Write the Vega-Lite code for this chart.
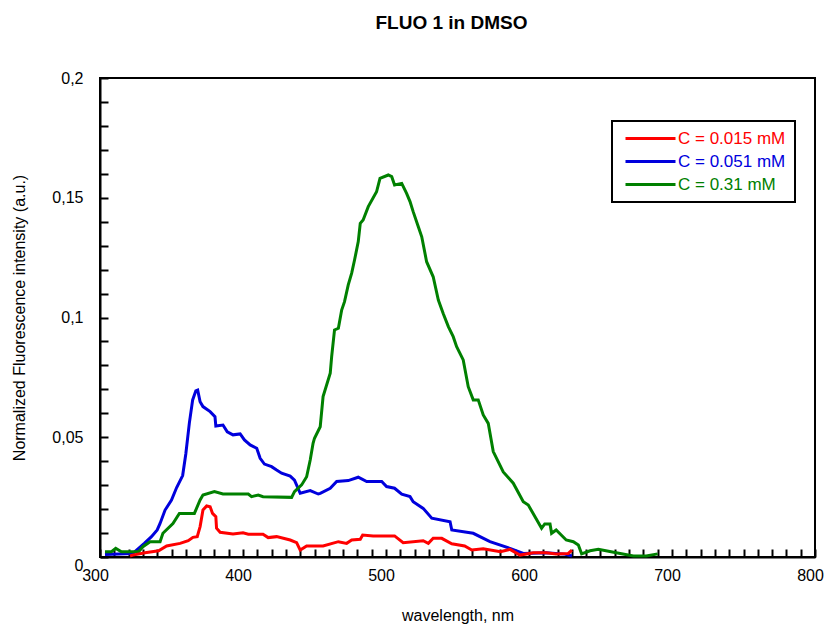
{
  "$schema": "https://vega.github.io/schema/vega-lite/v6.json",
  "width": 715,
  "height": 479,
  "autosize": {"type": "none"},
  "padding": {"left": 100, "top": 78, "right": 15, "bottom": 68},
  "background": "white",
  "title": {"text": "FLUO 1 in DMSO", "font": "Liberation Sans", "fontSize": 19, "fontWeight": "bold", "anchor": "middle", "offset": 37, "dx": -6, "color": "black"},
  "config": {
    "view": {"stroke": "black", "strokeWidth": 2},
    "axis": {"domainColor": "black", "domainWidth": 2, "tickColor": "black", "tickWidth": 2, "labelFont": "Liberation Sans", "labelFontSize": 16, "labelColor": "black", "titleFont": "Liberation Sans", "titleFontSize": 16, "titleFontWeight": "normal", "titleColor": "black", "grid": false}
  },
  "data": {"values": [
    {"s":"C = 0.051 mM","wl":303.5,"v":0.001},{"s":"C = 0.051 mM","wl":323,"v":0.0015},{"s":"C = 0.051 mM","wl":327,"v":0.0036},{"s":"C = 0.051 mM","wl":331,"v":0.0057},{"s":"C = 0.051 mM","wl":336,"v":0.0085},{"s":"C = 0.051 mM","wl":340,"v":0.0113},{"s":"C = 0.051 mM","wl":342,"v":0.014},{"s":"C = 0.051 mM","wl":345.5,"v":0.0196},{"s":"C = 0.051 mM","wl":350,"v":0.0238},{"s":"C = 0.051 mM","wl":353.6,"v":0.029},{"s":"C = 0.051 mM","wl":357.8,"v":0.034},{"s":"C = 0.051 mM","wl":360,"v":0.043},{"s":"C = 0.051 mM","wl":362.5,"v":0.056},{"s":"C = 0.051 mM","wl":364.8,"v":0.0656},{"s":"C = 0.051 mM","wl":367,"v":0.0694},{"s":"C = 0.051 mM","wl":368.3,"v":0.0697},{"s":"C = 0.051 mM","wl":370,"v":0.0648},{"s":"C = 0.051 mM","wl":372,"v":0.0628},{"s":"C = 0.051 mM","wl":377,"v":0.0607},{"s":"C = 0.051 mM","wl":380.4,"v":0.0586},{"s":"C = 0.051 mM","wl":381,"v":0.0547},{"s":"C = 0.051 mM","wl":386,"v":0.0551},{"s":"C = 0.051 mM","wl":389,"v":0.0523},{"s":"C = 0.051 mM","wl":393,"v":0.051},{"s":"C = 0.051 mM","wl":398,"v":0.0514},{"s":"C = 0.051 mM","wl":401,"v":0.0489},{"s":"C = 0.051 mM","wl":405,"v":0.0468},{"s":"C = 0.051 mM","wl":409.6,"v":0.0454},{"s":"C = 0.051 mM","wl":412,"v":0.0412},{"s":"C = 0.051 mM","wl":415,"v":0.0388},{"s":"C = 0.051 mM","wl":420,"v":0.0377},{"s":"C = 0.051 mM","wl":423.5,"v":0.0363},{"s":"C = 0.051 mM","wl":427,"v":0.035},{"s":"C = 0.051 mM","wl":433,"v":0.0338},{"s":"C = 0.051 mM","wl":436,"v":0.0321},{"s":"C = 0.051 mM","wl":440,"v":0.0266},{"s":"C = 0.051 mM","wl":447,"v":0.0277},{"s":"C = 0.051 mM","wl":452.6,"v":0.0263},{"s":"C = 0.051 mM","wl":454,"v":0.0266},{"s":"C = 0.051 mM","wl":461,"v":0.0287},{"s":"C = 0.051 mM","wl":465.5,"v":0.0315},{"s":"C = 0.051 mM","wl":473.6,"v":0.0319},{"s":"C = 0.051 mM","wl":480.6,"v":0.0333},{"s":"C = 0.051 mM","wl":486.5,"v":0.0315},{"s":"C = 0.051 mM","wl":497,"v":0.0315},{"s":"C = 0.051 mM","wl":500.4,"v":0.0294},{"s":"C = 0.051 mM","wl":506,"v":0.0287},{"s":"C = 0.051 mM","wl":511,"v":0.0262},{"s":"C = 0.051 mM","wl":516.8,"v":0.0252},{"s":"C = 0.051 mM","wl":519,"v":0.0231},{"s":"C = 0.051 mM","wl":526,"v":0.0203},{"s":"C = 0.051 mM","wl":532,"v":0.0162},{"s":"C = 0.051 mM","wl":544.8,"v":0.0147},{"s":"C = 0.051 mM","wl":546,"v":0.0113},{"s":"C = 0.051 mM","wl":561,"v":0.0099},{"s":"C = 0.051 mM","wl":572.7,"v":0.0064},{"s":"C = 0.051 mM","wl":586.7,"v":0.0036},{"s":"C = 0.051 mM","wl":596,"v":0.0015},{"s":"C = 0.051 mM","wl":612,"v":0.0018},{"s":"C = 0.051 mM","wl":625,"v":0.0012},{"s":"C = 0.051 mM","wl":630,"v":0.0004},
    {"s":"C = 0.31 mM","wl":303.5,"v":0.0022},{"s":"C = 0.31 mM","wl":308,"v":0.0022},{"s":"C = 0.31 mM","wl":311,"v":0.0036},{"s":"C = 0.31 mM","wl":315,"v":0.0022},{"s":"C = 0.31 mM","wl":327,"v":0.0022},{"s":"C = 0.31 mM","wl":330,"v":0.0043},{"s":"C = 0.31 mM","wl":335,"v":0.0064},{"s":"C = 0.31 mM","wl":342,"v":0.0064},{"s":"C = 0.31 mM","wl":344,"v":0.0099},{"s":"C = 0.31 mM","wl":351,"v":0.014},{"s":"C = 0.31 mM","wl":355.5,"v":0.0182},{"s":"C = 0.31 mM","wl":366,"v":0.0182},{"s":"C = 0.31 mM","wl":370,"v":0.0238},{"s":"C = 0.31 mM","wl":372,"v":0.0259},{"s":"C = 0.31 mM","wl":380,"v":0.0273},{"s":"C = 0.31 mM","wl":386,"v":0.0263},{"s":"C = 0.31 mM","wl":403.7,"v":0.0263},{"s":"C = 0.31 mM","wl":406,"v":0.0252},{"s":"C = 0.31 mM","wl":410.7,"v":0.0259},{"s":"C = 0.31 mM","wl":414,"v":0.0252},{"s":"C = 0.31 mM","wl":434,"v":0.0249},{"s":"C = 0.31 mM","wl":436,"v":0.0273},{"s":"C = 0.31 mM","wl":441,"v":0.0301},{"s":"C = 0.31 mM","wl":444.5,"v":0.0335},{"s":"C = 0.31 mM","wl":447,"v":0.0405},{"s":"C = 0.31 mM","wl":449,"v":0.0475},{"s":"C = 0.31 mM","wl":450,"v":0.0496},{"s":"C = 0.31 mM","wl":454,"v":0.0544},{"s":"C = 0.31 mM","wl":456,"v":0.067},{"s":"C = 0.31 mM","wl":461,"v":0.0767},{"s":"C = 0.31 mM","wl":462,"v":0.0837},{"s":"C = 0.31 mM","wl":464,"v":0.0948},{"s":"C = 0.31 mM","wl":466.7,"v":0.0955},{"s":"C = 0.31 mM","wl":469,"v":0.1031},{"s":"C = 0.31 mM","wl":471,"v":0.1066},{"s":"C = 0.31 mM","wl":473.6,"v":0.1136},{"s":"C = 0.31 mM","wl":476,"v":0.1185},{"s":"C = 0.31 mM","wl":478,"v":0.124},{"s":"C = 0.31 mM","wl":480.6,"v":0.1317},{"s":"C = 0.31 mM","wl":482,"v":0.1393},{"s":"C = 0.31 mM","wl":484,"v":0.1407},{"s":"C = 0.31 mM","wl":487.6,"v":0.1463},{"s":"C = 0.31 mM","wl":493.4,"v":0.1525},{"s":"C = 0.31 mM","wl":495.8,"v":0.1581},{"s":"C = 0.31 mM","wl":501.6,"v":0.1595},{"s":"C = 0.31 mM","wl":504,"v":0.1588},{"s":"C = 0.31 mM","wl":506,"v":0.1553},{"s":"C = 0.31 mM","wl":511,"v":0.156},{"s":"C = 0.31 mM","wl":514.4,"v":0.1518},{"s":"C = 0.31 mM","wl":516.8,"v":0.1484},{"s":"C = 0.31 mM","wl":519,"v":0.1442},{"s":"C = 0.31 mM","wl":522.6,"v":0.1379},{"s":"C = 0.31 mM","wl":525,"v":0.1337},{"s":"C = 0.31 mM","wl":528.4,"v":0.1233},{"s":"C = 0.31 mM","wl":533,"v":0.117},{"s":"C = 0.31 mM","wl":536.6,"v":0.1073},{"s":"C = 0.31 mM","wl":540,"v":0.1017},{"s":"C = 0.31 mM","wl":543.6,"v":0.0962},{"s":"C = 0.31 mM","wl":547,"v":0.092},{"s":"C = 0.31 mM","wl":549.4,"v":0.0878},{"s":"C = 0.31 mM","wl":554,"v":0.0823},{"s":"C = 0.31 mM","wl":557.5,"v":0.0711},{"s":"C = 0.31 mM","wl":561,"v":0.0656},{"s":"C = 0.31 mM","wl":564.5,"v":0.0656},{"s":"C = 0.31 mM","wl":568,"v":0.0593},{"s":"C = 0.31 mM","wl":571.5,"v":0.0558},{"s":"C = 0.31 mM","wl":575,"v":0.044},{"s":"C = 0.31 mM","wl":582,"v":0.0355},{"s":"C = 0.31 mM","wl":589,"v":0.0308},{"s":"C = 0.31 mM","wl":596,"v":0.0231},{"s":"C = 0.31 mM","wl":599.5,"v":0.0217},{"s":"C = 0.31 mM","wl":608.8,"v":0.012},{"s":"C = 0.31 mM","wl":611,"v":0.0138},{"s":"C = 0.31 mM","wl":614.7,"v":0.0138},{"s":"C = 0.31 mM","wl":615.8,"v":0.0099},{"s":"C = 0.31 mM","wl":619,"v":0.0113},{"s":"C = 0.31 mM","wl":626,"v":0.0071},{"s":"C = 0.31 mM","wl":631,"v":0.0064},{"s":"C = 0.31 mM","wl":634.5,"v":0.005},{"s":"C = 0.31 mM","wl":636.8,"v":0.0013},{"s":"C = 0.31 mM","wl":642.7,"v":0.0026},{"s":"C = 0.31 mM","wl":648.5,"v":0.0032},{"s":"C = 0.31 mM","wl":661,"v":0.0018},{"s":"C = 0.31 mM","wl":673,"v":0.0004},{"s":"C = 0.31 mM","wl":682,"v":0.0004},{"s":"C = 0.31 mM","wl":690,"v":0.0013},
    {"s":"C = 0.015 mM","wl":321,"v":0.0004},{"s":"C = 0.015 mM","wl":323,"v":0.0008},{"s":"C = 0.015 mM","wl":331.5,"v":0.0018},{"s":"C = 0.015 mM","wl":341,"v":0.0026},{"s":"C = 0.015 mM","wl":346.6,"v":0.0046},{"s":"C = 0.015 mM","wl":356,"v":0.0057},{"s":"C = 0.015 mM","wl":361.7,"v":0.0068},{"s":"C = 0.015 mM","wl":365,"v":0.0082},{"s":"C = 0.015 mM","wl":368,"v":0.0085},{"s":"C = 0.015 mM","wl":370,"v":0.0127},{"s":"C = 0.015 mM","wl":372,"v":0.0196},{"s":"C = 0.015 mM","wl":374.6,"v":0.0213},{"s":"C = 0.015 mM","wl":377,"v":0.021},{"s":"C = 0.015 mM","wl":378.7,"v":0.0182},{"s":"C = 0.015 mM","wl":381,"v":0.0168},{"s":"C = 0.015 mM","wl":381.5,"v":0.012},{"s":"C = 0.015 mM","wl":384,"v":0.0103},{"s":"C = 0.015 mM","wl":393,"v":0.0096},{"s":"C = 0.015 mM","wl":400,"v":0.0101},{"s":"C = 0.015 mM","wl":403.7,"v":0.0095},{"s":"C = 0.015 mM","wl":414,"v":0.0095},{"s":"C = 0.015 mM","wl":417.6,"v":0.0081},{"s":"C = 0.015 mM","wl":423.5,"v":0.0085},{"s":"C = 0.015 mM","wl":433,"v":0.0071},{"s":"C = 0.015 mM","wl":437.5,"v":0.006},{"s":"C = 0.015 mM","wl":440,"v":0.0029},{"s":"C = 0.015 mM","wl":444.5,"v":0.0046},{"s":"C = 0.015 mM","wl":456,"v":0.0046},{"s":"C = 0.015 mM","wl":466.7,"v":0.0064},{"s":"C = 0.015 mM","wl":472.5,"v":0.0057},{"s":"C = 0.015 mM","wl":476,"v":0.0071},{"s":"C = 0.015 mM","wl":482,"v":0.0074},{"s":"C = 0.015 mM","wl":483.7,"v":0.0092},{"s":"C = 0.015 mM","wl":491,"v":0.0088},{"s":"C = 0.015 mM","wl":506,"v":0.0088},{"s":"C = 0.015 mM","wl":512,"v":0.006},{"s":"C = 0.015 mM","wl":526,"v":0.0068},{"s":"C = 0.015 mM","wl":529.6,"v":0.0057},{"s":"C = 0.015 mM","wl":533,"v":0.0078},{"s":"C = 0.015 mM","wl":539,"v":0.0078},{"s":"C = 0.015 mM","wl":546,"v":0.0055},{"s":"C = 0.015 mM","wl":555,"v":0.0046},{"s":"C = 0.015 mM","wl":560,"v":0.0029},{"s":"C = 0.015 mM","wl":568,"v":0.0034},{"s":"C = 0.015 mM","wl":580,"v":0.0022},{"s":"C = 0.015 mM","wl":586.7,"v":0.0032},{"s":"C = 0.015 mM","wl":593.7,"v":0.0008},{"s":"C = 0.015 mM","wl":603,"v":0.0018},{"s":"C = 0.015 mM","wl":612,"v":0.0018},{"s":"C = 0.015 mM","wl":619,"v":0.0013},{"s":"C = 0.015 mM","wl":627.5,"v":0.0015},{"s":"C = 0.015 mM","wl":630,"v":0.0029}
  ]},
  "mark": {"type": "line", "strokeWidth": 3, "interpolate": "linear"},
  "encoding": {
    "x": {
      "field": "wl", "type": "quantitative",
      "scale": {"domain": [300, 800], "nice": false, "zero": false},
      "axis": {
        "title": "wavelength, nm", "titlePadding": 24,
        "values": [300,310,320,330,340,350,360,370,380,390,400,410,420,430,440,450,460,470,480,490,500,510,520,530,540,550,560,570,580,590,600,610,620,630,640,650,660,670,680,690,700,710,720,730,740,750,760,770,780,790,800],
        "tickSize": -8,
        "encode": {"ticks": {"update": {"y2": {"signal": "datum.value % 100 === 0 ? -8 : -4"}}}},
        "labelExpr": "datum.value % 100 === 0 ? datum.label : ''",
        "labelPadding": 18, "labelOffset": -5, "labelFlush": false, "labelOverlap": false
      }
    },
    "y": {
      "field": "v", "type": "quantitative",
      "scale": {"domain": [0, 0.2], "nice": false},
      "axis": {
        "title": "Normalized Fluorescence intensity (a.u.)", "titlePadding": 24,
        "values": [0,0.01,0.02,0.03,0.04,0.05,0.06,0.07,0.08,0.09,0.1,0.11,0.12,0.13,0.14,0.15,0.16,0.17,0.18,0.19,0.2],
        "tickSize": -8,
        "encode": {"ticks": {"update": {"x2": {"signal": "round(datum.value*100) % 5 === 0 ? 8 : 4"}}}},
        "labelExpr": "round(datum.value*100) % 5 === 0 ? replace(format(datum.value, '~g'), '.', ',') : ''",
        "labelBaseline": {"condition": {"test": "datum.value === 0", "value": "top"}, "value": "middle"},
        "labelPadding": 25, "labelFlush": false, "labelOverlap": false
      }
    },
    "color": {
      "field": "s", "type": "nominal",
      "scale": {"domain": ["C = 0.015 mM", "C = 0.051 mM", "C = 0.31 mM"], "range": ["#ff0000", "#0000dd", "#008000"]},
      "legend": {
        "title": null, "orient": "none", "legendX": 512, "legendY": 43,
        "strokeColor": "black", "fillColor": "white", "padding": 9,
        "symbolType": "M-5,0H5", "symbolSize": 100, "symbolStrokeWidth": 3, "symbolOffset": 21,
        "labelFont": "Liberation Sans", "labelFontSize": 17, "labelOffset": 19, "rowPadding": 5,
        "labelExpr": "datum.label + '\u2003'",
        "encode": {
          "legend": {"update": {"strokeWidth": {"value": 2}}},
          "labels": {"update": {"fill": {"signal": "datum.value === 'C = 0.015 mM' ? '#ff0000' : datum.value === 'C = 0.051 mM' ? '#0000dd' : '#008000'"}}}
        }
      }
    }
  }
}
